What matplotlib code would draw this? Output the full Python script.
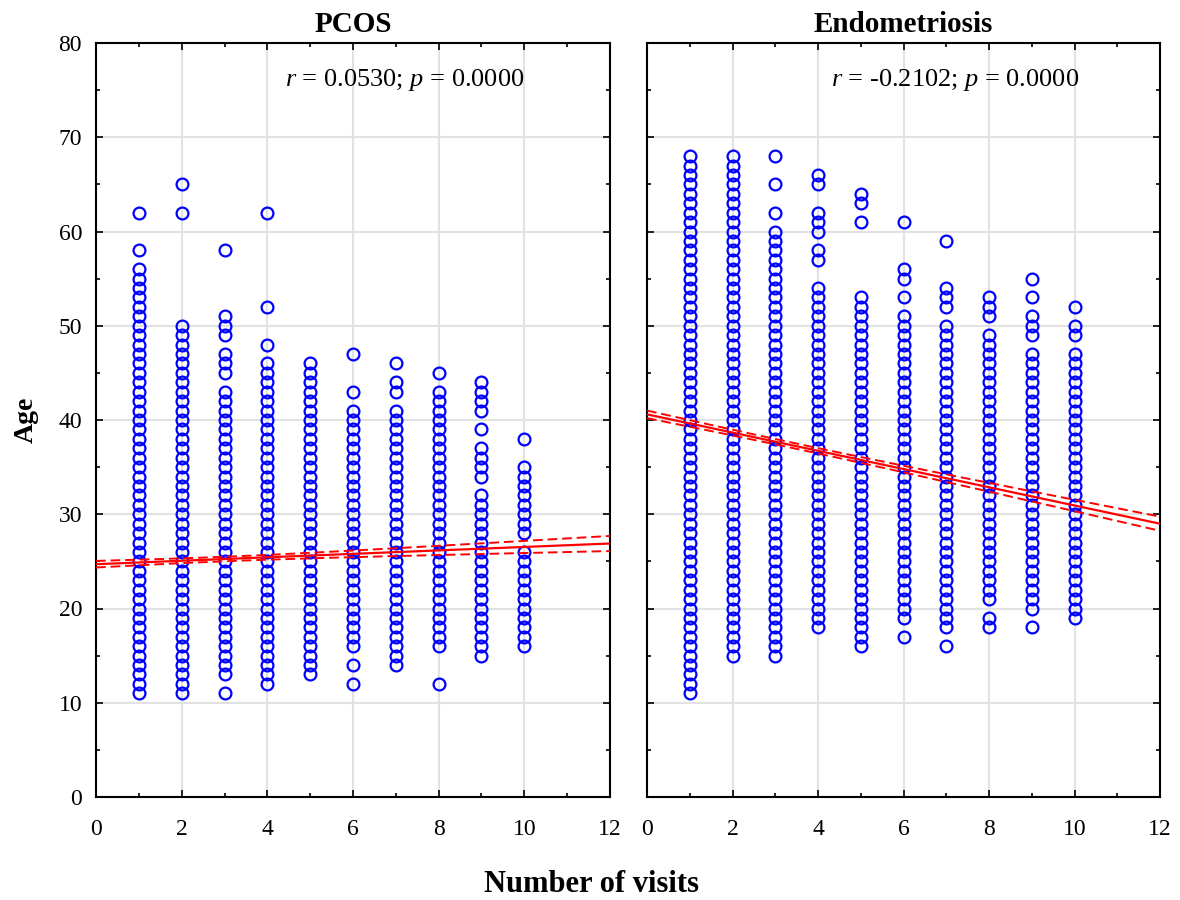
import matplotlib
matplotlib.use('Agg')
import matplotlib.pyplot as plt
import numpy as np

plt.rcParams['font.family'] = ['Liberation Serif', 'DejaVu Serif']
plt.rcParams['mathtext.fontset'] = 'custom'
plt.rcParams['mathtext.rm'] = 'Liberation Serif'
plt.rcParams['mathtext.it'] = 'Liberation Serif:italic'

# ages per visit count, stored as runs of consecutive ages (lo, hi)
visits = [1, 2, 3, 4, 5, 6, 7, 8, 9, 10]

pcos_runs = [
    [(11, 56), (58, 58), (62, 62)],
    [(11, 50), (62, 62), (65, 65)],
    [(11, 11), (13, 43), (45, 47), (49, 51), (58, 58)],
    [(12, 46), (48, 48), (52, 52), (62, 62)],
    [(13, 46)],
    [(12, 12), (14, 14), (16, 41), (43, 43), (47, 47)],
    [(14, 41), (43, 44), (46, 46)],
    [(12, 12), (16, 43), (45, 45)],
    [(15, 32), (34, 37), (39, 39), (41, 44)],
    [(16, 26), (28, 35), (38, 38)],
]

endo_runs = [
    [(11, 68)],
    [(15, 68)],
    [(15, 60), (62, 62), (65, 65), (68, 68)],
    [(18, 54), (57, 58), (60, 62), (65, 66)],
    [(16, 53), (61, 61), (63, 64)],
    [(17, 17), (19, 51), (53, 53), (55, 56), (61, 61)],
    [(16, 16), (18, 50), (52, 54), (59, 59)],
    [(18, 19), (21, 49), (51, 53)],
    [(18, 18), (20, 47), (49, 51), (53, 53), (55, 55)],
    [(19, 47), (49, 50), (52, 52)],
]

# regression: intercept, slope, CI params (a, b, x mean)
pcos_fit = [24.7, 0.183, 0.24, 0.085, 3.0]
endo_fit = [40.6, -0.967, 0.28, 0.082, 3.5]

titles = ['PCOS', 'Endometriosis']
stats = [r'$\it{r}$ = 0.0530; $\it{p}$ = 0.0000',
         r'$\it{r}$ = -0.2102; $\it{p}$ = 0.0000']

fig = plt.figure(figsize=(11.8, 9), dpi=100)
ax1 = fig.add_axes([96 / 1180, 103 / 900, 514 / 1180, 754 / 900])
ax2 = fig.add_axes([647 / 1180, 103 / 900, 513 / 1180, 754 / 900])

for ax, runs, fit, title, st in zip([ax1, ax2], [pcos_runs, endo_runs],
                                    [pcos_fit, endo_fit], titles, stats):
    for v, rr in zip(visits, runs):
        ages = np.concatenate([np.arange(lo, hi + 1) for lo, hi in rr])
        ax.plot(np.full(len(ages), v), ages, 'o', mfc='none', mec='#0000ff',
                ms=8.5, mew=1.6, zorder=3)
    b0, b1, a, b, xm = fit
    xs = np.linspace(0, 12, 200)
    yfit = b0 + b1 * xs
    hw = np.sqrt(a ** 2 + (b * (xs - xm)) ** 2)
    ax.plot(xs, yfit, color='red', lw=1.6, zorder=4)
    ax.plot(xs, yfit + hw, color='red', lw=1.4, ls=(0, (5, 2.5)), zorder=4)
    ax.plot(xs, yfit - hw, color='red', lw=1.4, ls=(0, (5, 2.5)), zorder=4)

    ax.set_xlim(0, 12)
    ax.set_ylim(0, 80)
    ax.set_xticks(range(0, 13, 2))
    ax.set_xticks(range(1, 12, 2), minor=True)
    ax.set_yticks(range(0, 81, 10))
    ax.set_yticks(range(5, 80, 10), minor=True)
    ax.grid(True, which='major', color='#e2e2e2', lw=1.5, zorder=0)
    ax.set_axisbelow(True)
    ax.tick_params(which='both', direction='in', top=True, right=True,
                   width=1.2, labelsize=17)
    ax.tick_params(which='major', length=5)
    ax.tick_params(axis='x', which='major', pad=16)
    ax.tick_params(axis='y', which='major', pad=10)
    ax.tick_params(which='minor', length=3)
    for s in ax.spines.values():
        s.set_linewidth(1.5)
    ax.set_title(title, fontsize=21, fontweight='bold', pad=8)
    ax.text(0.6, 0.951, st, transform=ax.transAxes, ha='center', va='center',
            fontsize=19)

ax2.tick_params(labelleft=False)
ax1.set_ylabel('Age', fontsize=20, fontweight='bold', labelpad=14)
fig.text(592 / 1180, 1 - 885 / 900, 'Number of visits', ha='center',
         va='center', fontsize=22, fontweight='bold')

fig.savefig('out.png', dpi=100)
